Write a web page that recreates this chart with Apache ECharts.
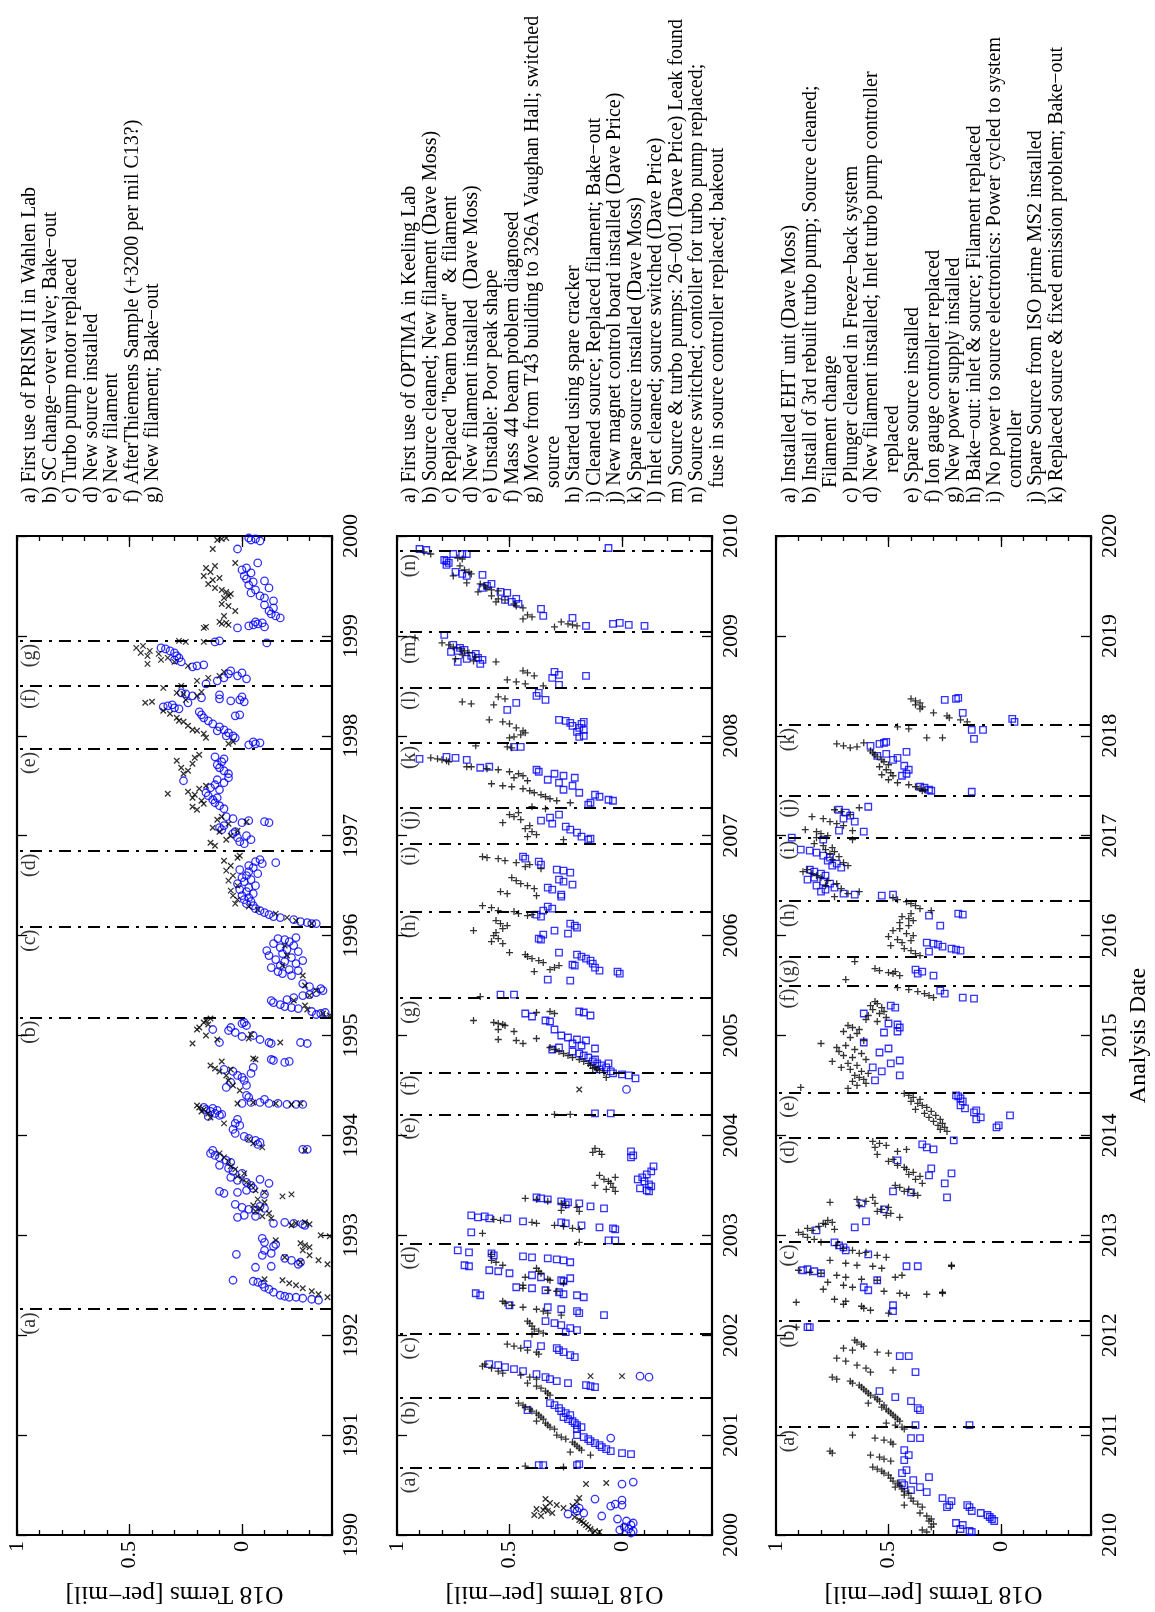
<!DOCTYPE html>
<html>
<head>
<meta charset="utf-8">
<title>O18 Terms by analysis date</title>
<script src="https://cdn.jsdelivr.net/npm/echarts@6/dist/echarts.min.js"></script>
<style>
  html, body { margin: 0; padding: 0; background: #fff; }
  #chart { width: 1155px; height: 1612px; }
</style>
</head>
<body>
<div id="chart"></div>
<script>
// ---------------------------------------------------------------------------
// Data: [analysis date (decimal year), O18 term (per-mil)]
// ---------------------------------------------------------------------------

// PRISM II, 'x' markers (1990-2000 panel)
const p1Cross = [
  [1992.38,-0.38],[1992.41,-0.34],[1992.44,-0.31],[1992.47,-0.27],[1992.50,-0.24],[1992.52,-0.21],[1992.55,-0.18],[1992.56,-0.10],
  [1992.71,-0.38],[1992.75,-0.34],[1992.80,-0.30],[1992.85,-0.27],[1992.88,-0.30],[1992.90,-0.28],[1992.92,-0.26],[1992.95,-0.15],[1992.78,-0.19],[1992.73,-0.26],[1992.99,-0.39],[1993.00,-0.35],
  [1993.12,-0.24],[1993.13,-0.28],[1993.11,-0.30],[1993.10,-0.22],
  [1993.17,-0.13],[1993.19,-0.09],[1993.22,-0.12],[1993.24,-0.06],[1993.27,-0.08],[1993.30,-0.05],[1993.33,-0.10],[1993.36,-0.07],[1993.39,-0.18],[1993.41,-0.22],[1993.43,-0.10],[1993.45,-0.06],
  [1993.50,-0.04],[1993.53,-0.02],[1993.56,0.00],[1993.59,0.02],[1993.62,-0.01],[1993.66,0.03],[1993.69,0.05],
  [1993.74,0.06],[1993.78,0.08],[1993.82,0.10],[1993.85,-0.28],[1993.88,-0.09],[1993.92,-0.05],[1993.96,-0.03],
  [1994.12,0.08],[1994.18,0.14],[1994.22,0.15],[1994.24,0.18],[1994.26,0.17],[1994.28,0.19],[1994.30,0.20],
  [1994.32,0.02],[1994.33,-0.05],[1994.32,-0.15],[1994.31,-0.22],[1994.32,-0.26],
  [1994.45,0.01],[1994.50,0.04],[1994.55,0.06],[1994.60,0.07],[1994.64,0.10],[1994.66,0.05],[1994.67,0.12],[1994.70,0.14],[1994.74,0.09],
  [1994.76,-0.06],[1994.77,-0.05],
  [1994.92,0.22],[1994.93,-0.17],[1994.96,0.11],[1994.97,-0.03],[1995.00,0.16],[1995.01,-0.04],[1995.06,0.20],[1995.08,0.19],[1995.11,0.15],[1995.13,0.17],[1995.15,0.16],[1995.17,0.14],
  [1995.20,-0.39],[1995.22,-0.36],[1995.26,-0.29],[1995.30,-0.28],[1995.35,-0.23],[1995.40,-0.30],[1995.45,-0.33],[1995.50,-0.28],
  [1995.60,-0.27],[1995.70,-0.18],[1995.80,-0.20],[1995.90,-0.19],
  [1996.12,-0.31],[1996.15,-0.24],[1996.18,-0.20],[1996.22,-0.15],[1996.26,-0.07],[1996.29,-0.03],
  [1996.32,0.03],[1996.36,0.02],[1996.40,0.04],[1996.45,0.05],[1996.50,0.02],[1996.55,0.06],[1996.60,0.04],[1996.65,0.07],[1996.70,0.05],[1996.75,0.08],[1996.78,0.02],[1996.80,0.01],
  [1996.90,0.12],[1996.93,0.14],[1996.96,0.07],[1997.00,0.05],[1997.04,0.10],[1997.05,0.02],[1997.08,0.13],[1997.12,0.06],[1997.14,-0.02],[1997.16,0.11],[1997.19,0.09],
  [1997.26,0.20],[1997.29,0.22],[1997.32,0.17],[1997.35,0.18],[1997.38,0.22],[1997.41,0.21],[1997.42,0.33],[1997.44,0.24],[1997.47,0.19],[1997.50,0.16],
  [1997.62,0.26],[1997.65,0.24],[1997.68,0.27],[1997.72,0.22],[1997.75,0.29],[1997.78,0.21],[1997.81,0.19],
  [1997.92,0.06],[1997.94,0.04],
  [1997.98,0.16],[1998.02,0.17],[1998.05,0.20],[1998.06,0.22],[1998.10,0.24],[1998.14,0.26],[1998.15,0.28],[1998.18,0.29],[1998.22,0.32],[1998.25,0.35],
  [1998.33,0.43],[1998.34,0.40],[1998.36,0.25],[1998.40,0.20],[1998.42,0.26],[1998.43,0.29],[1998.44,0.18],
  [1998.48,0.35],[1998.50,0.27],[1998.55,0.20],[1998.58,0.15],[1998.60,0.10],[1998.64,0.08],
  [1998.70,0.24],[1998.72,0.42],[1998.74,0.30],[1998.76,0.36],[1998.78,0.33],[1998.80,0.42],[1998.82,0.37],[1998.83,0.45],[1998.85,0.41],[1998.88,0.47],[1998.90,0.44],
  [1998.94,0.25],[1998.94,0.17],[1998.95,0.28],
  [1999.08,0.17],[1999.09,0.16],[1999.11,0.06],[1999.12,0.09],[1999.13,0.07],[1999.14,0.10],
  [1999.20,0.08],[1999.25,0.03],[1999.30,0.06],[1999.32,0.09],
  [1999.38,0.08],[1999.40,0.06],[1999.42,0.05],[1999.44,0.07],[1999.46,0.09],
  [1999.48,0.12],[1999.52,0.15],[1999.56,0.13],[1999.58,0.10],[1999.60,0.17],[1999.64,0.14],[1999.68,0.16],[1999.70,0.12],
  [1999.73,0.03],[1999.87,0.13],[1999.96,0.11],[1999.97,0.09],[1999.98,0.07]
];

// PRISM II, open circles (1990-2000 panel)
const p1Circle = [
  [1992.35,-0.34],[1992.36,-0.31],[1992.37,-0.27],[1992.38,-0.24],[1992.38,-0.21],[1992.39,-0.19],[1992.40,-0.17],[1992.43,-0.14],[1992.46,-0.12],[1992.48,-0.10],[1992.51,-0.09],[1992.53,-0.07],[1992.54,-0.05],[1992.55,0.04],
  [1992.97,-0.09],[1992.93,-0.10],[1992.91,-0.15],[1992.89,-0.14],[1992.85,-0.10],[1992.82,-0.13],[1992.80,-0.09],[1992.77,-0.19],[1992.75,-0.22],[1992.73,-0.26],[1992.71,-0.25],[1992.68,-0.06],[1992.69,-0.13],[1992.81,0.025],
  [1993.12,-0.14],[1993.13,-0.19],[1993.12,-0.23],[1993.11,-0.27],[1993.10,-0.28],
  [1993.18,0.02],[1993.20,-0.01],[1993.19,-0.06],
  [1993.28,0.00],[1993.26,-0.03],[1993.25,-0.06],[1993.29,-0.08],[1993.27,-0.10],[1993.31,0.03],
  [1993.42,0.08],[1993.43,0.02],[1993.45,-0.02],[1993.47,-0.05],[1993.41,-0.10],[1993.44,0.10],
  [1993.58,0.05],[1993.55,0.02],[1993.53,-0.02],[1993.50,-0.04],[1993.62,0.00],[1993.56,-0.08],[1993.52,-0.12],
  [1993.70,0.10],[1993.67,0.06],[1993.64,0.04],
  [1993.85,0.13],[1993.82,0.14],[1993.80,0.12],[1993.78,0.10],[1993.75,0.07],[1993.73,0.05],[1993.86,-0.27],[1993.86,-0.29],
  [1994.02,0.03],[1993.99,-0.01],[1993.97,-0.03],[1993.95,-0.06],[1993.93,-0.08],[1993.91,-0.07],
  [1994.12,0.03],[1994.10,0.01],[1994.06,0.04],[1994.16,0.02],
  [1994.28,0.17],[1994.26,0.16],[1994.24,0.14],[1994.22,0.12],[1994.20,0.10],[1994.27,0.13],[1994.25,0.11],[1994.21,0.09],[1994.19,0.15],
  [1994.32,0.00],[1994.33,-0.04],[1994.33,-0.08],[1994.32,-0.12],[1994.32,-0.16],[1994.31,-0.20],[1994.31,-0.24],[1994.31,-0.27],
  [1994.40,-0.02],[1994.38,-0.03],[1994.36,-0.10],
  [1994.66,0.08],[1994.64,0.04],[1994.60,0.02],[1994.58,0.00],[1994.55,-0.01],[1994.53,0.05],[1994.50,-0.02],[1994.48,0.07],[1994.62,-0.04],[1994.68,-0.05],
  [1994.76,-0.13],[1994.75,-0.14],[1994.73,-0.19],[1994.74,-0.21],
  [1995.12,0.00],[1995.13,-0.01],[1995.10,-0.02],[1995.08,0.05],[1995.05,0.06],[1995.03,0.03],[1994.99,0.00],[1995.00,-0.05],[1995.06,0.13],[1994.93,0.10],[1994.96,-0.08],[1994.93,-0.12],[1994.92,-0.13],[1994.93,-0.26],[1994.92,-0.29],
  [1995.21,-0.33],[1995.22,-0.35],[1995.23,-0.37],[1995.24,-0.31],[1995.27,-0.25],[1995.28,-0.22],[1995.29,-0.19],[1995.31,-0.17],[1995.33,-0.14],[1995.35,-0.13],[1995.36,-0.20],[1995.38,-0.23],[1995.40,-0.27],[1995.41,-0.30],[1995.43,-0.33],[1995.45,-0.36],[1995.47,-0.35],[1995.49,-0.30],[1995.52,-0.27],
  [1995.60,-0.22],[1995.62,-0.18],[1995.64,-0.16],[1995.65,-0.25],[1995.66,-0.21],[1995.68,-0.13],[1995.70,-0.17],[1995.72,-0.24],[1995.74,-0.19],[1995.75,-0.27],[1995.76,-0.15],[1995.78,-0.22],[1995.80,-0.12],[1995.82,-0.18],[1995.84,-0.25],[1995.85,-0.11],[1995.86,-0.20],[1995.88,-0.17],[1995.90,-0.23],[1995.92,-0.14],[1995.94,-0.21],[1995.96,-0.19],[1995.97,-0.16],[1995.98,-0.24],
  [1996.12,-0.33],[1996.12,-0.31],[1996.13,-0.29],[1996.14,-0.26],[1996.16,-0.23],[1996.18,-0.17],[1996.19,-0.14],[1996.21,-0.12],[1996.23,-0.10],[1996.25,-0.08],[1996.27,-0.06],
  [1996.30,-0.05],[1996.32,-0.02],[1996.34,-0.04],[1996.36,-0.01],[1996.38,-0.03],[1996.40,0.00],[1996.42,-0.05],[1996.44,-0.02],[1996.46,0.01],[1996.48,-0.03],[1996.50,-0.06],[1996.52,0.02],[1996.54,-0.01],[1996.56,-0.04],[1996.58,0.00],[1996.60,-0.02],[1996.62,-0.07],[1996.64,-0.03],[1996.66,0.01],[1996.68,-0.05],[1996.70,-0.03],[1996.72,-0.09],[1996.74,-0.06],[1996.76,-0.08],[1996.73,-0.15],
  [1996.92,-0.01],[1996.94,0.01],[1996.96,-0.04],[1996.98,0.02],[1997.00,-0.02],[1997.02,0.04],[1997.04,0.03],[1997.06,0.09],[1997.08,0.10],[1997.10,0.08],[1997.13,0.00],[1997.15,-0.03],[1997.17,0.04],[1997.19,0.07],[1997.14,-0.10],[1997.13,-0.12],
  [1997.27,0.08],[1997.30,0.10],[1997.33,0.12],[1997.36,0.13],[1997.38,0.11],[1997.40,0.15],[1997.43,0.16],[1997.46,0.10],[1997.48,0.14],[1997.51,0.12],[1997.53,0.08],[1997.56,0.11],[1997.58,0.06],[1997.55,0.26],
  [1997.62,0.06],[1997.65,0.08],[1997.68,0.10],[1997.71,0.11],[1997.74,0.09],[1997.77,0.08],[1997.79,0.12],
  [1997.91,-0.03],[1997.92,-0.06],[1997.93,-0.08],[1997.94,-0.05],
  [1997.98,0.03],[1998.00,0.04],[1998.00,0.07],[1998.03,0.06],[1998.05,0.11],[1998.06,0.08],[1998.09,0.10],[1998.12,0.13],[1998.15,0.15],[1998.18,0.17],[1998.20,0.03],[1998.21,0.18],[1998.21,0.01],[1998.24,0.19],
  [1998.27,0.28],[1998.28,0.30],[1998.29,0.35],[1998.30,0.33],[1998.31,0.31],[1998.33,0.24],
  [1998.34,-0.01],[1998.35,0.05],[1998.36,0.01],[1998.37,0.10],[1998.38,0.18],[1998.39,0.00],[1998.40,0.22],[1998.41,0.10],[1998.42,0.25],[1998.43,0.27],
  [1998.52,0.16],[1998.55,0.11],[1998.57,-0.02],[1998.58,0.08],[1998.60,0.02],[1998.62,0.06],[1998.63,0.00],[1998.65,0.05],
  [1998.69,0.22],[1998.70,0.20],[1998.71,0.17],
  [1998.74,0.27],[1998.76,0.30],[1998.78,0.28],[1998.80,0.29],[1998.83,0.30],[1998.85,0.32],[1998.87,0.34],[1998.88,0.36],
  [1998.93,-0.11],[1998.94,0.12],[1998.95,0.10],
  [1999.08,0.02],[1999.09,-0.10],[1999.10,-0.03],[1999.11,-0.05],[1999.12,-0.07],[1999.13,-0.09],[1999.14,-0.06],
  [1999.18,-0.17],[1999.20,-0.15],[1999.22,-0.13],[1999.25,-0.12],[1999.28,-0.14],[1999.31,-0.10],
  [1999.35,-0.14],[1999.38,-0.10],[1999.40,-0.08],[1999.43,-0.04],[1999.46,-0.06],[1999.48,-0.12],
  [1999.51,-0.03],[1999.54,-0.05],[1999.55,-0.10],[1999.57,-0.02],[1999.60,-0.01],[1999.63,-0.04],[1999.66,0.00],[1999.68,-0.02],
  [1999.73,-0.07],[1999.87,0.02],[1999.95,-0.08],[1999.96,-0.04],[1999.97,-0.06],[1999.98,-0.03]
];

// PRISM II carry-over into 2000-2010 panel
const p2Cross = [
  [2000.02,0.13],[2000.03,0.10],[2000.04,0.12],[2000.06,0.14],[2000.08,0.15],[2000.10,0.16],[2000.12,0.17],[2000.14,0.18],[2000.15,0.19],[2000.18,0.21],[2000.19,0.36],[2000.20,0.39],
  [2000.22,0.31],[2000.24,0.33],[2000.25,0.35],[2000.26,0.38],[2000.27,0.26],[2000.28,0.34],[2000.29,0.22],[2000.30,0.29],[2000.32,0.32],[2000.33,0.20],[2000.36,0.34],[2000.37,0.19],
  [2000.51,0.16],[2000.52,0.07],[2001.59,0.14],[2001.59,0.00],[2004.46,0.19]
];
const p2Circle = [
  [2000.02,-0.04],[2000.04,-0.05],[2000.05,0.01],[2000.06,-0.03],[2000.08,-0.01],[2000.10,-0.04],[2000.12,-0.05],[2000.14,-0.02],[2000.16,0.02],[2000.19,0.09],
  [2000.21,0.24],[2000.22,0.17],[2000.24,0.20],[2000.26,0.21],[2000.27,0.19],[2000.29,0.05],[2000.30,0.00],[2000.31,0.03],[2000.35,0.00],[2000.36,0.12],
  [2000.51,0.00],[2000.53,-0.05],[2000.97,0.05],[2001.58,-0.12],[2001.59,-0.08],[2004.46,-0.02]
];

// OPTIMA, '+' markers
const p2Plus = [
  [2000.68,0.26],[2000.69,0.43],
  [2000.80,0.14],[2000.83,0.23],[2000.85,0.18],[2000.87,0.19],[2000.89,0.20],[2000.91,0.21],[2000.93,0.22],[2000.96,0.25],[2000.98,0.27],[2001.00,0.29],
  [2001.06,0.30],[2001.08,0.32],[2001.10,0.33],[2001.12,0.34],[2001.14,0.38],[2001.16,0.35],[2001.18,0.36],[2001.20,0.37],[2001.22,0.38],[2001.24,0.40],[2001.26,0.41],[2001.28,0.43],[2001.30,0.44],[2001.32,0.46],
  [2001.40,0.32],[2001.42,0.33],[2001.44,0.34],[2001.47,0.36],[2001.49,0.38],[2001.52,0.42],
  [2001.56,0.38],[2001.58,0.41],[2001.60,0.45],[2001.62,0.53],[2001.64,0.55],[2001.67,0.58],[2001.69,0.62],[2001.71,0.61],
  [2001.81,0.37],[2001.83,0.38],[2001.85,0.42],[2001.87,0.45],[2001.89,0.48],[2001.91,0.51],
  [2002.01,0.40],[2002.02,0.35],[2002.04,0.37],[2002.06,0.39],[2002.09,0.40],[2002.12,0.41],[2002.14,0.42],
  [2002.20,0.27],[2002.22,0.33],[2002.24,0.35],[2002.26,0.38],[2002.28,0.44],[2002.30,0.49],[2002.32,0.52],[2002.34,0.53],
  [2002.44,0.29],[2002.45,0.33],[2002.47,0.44],[2002.50,0.44],[2002.52,0.26],[2002.55,0.32],[2002.56,0.33],[2002.58,0.43],
  [2002.62,0.36],[2002.64,0.37],[2002.67,0.38],[2002.70,0.53],[2002.73,0.56],[2002.75,0.58],[2002.81,0.58],
  [2002.93,0.19],[2003.02,0.62],
  [2003.06,0.19],[2003.07,0.22],[2003.09,0.26],[2003.10,0.30],[2003.12,0.38],[2003.13,0.40],[2003.15,0.54],[2003.16,0.57],
  [2003.24,0.19],[2003.25,0.27],[2003.28,0.20],[2003.30,0.25],[2003.32,0.27],[2003.34,0.33],[2003.36,0.38],[2003.37,0.43],
  [2003.44,0.03],[2003.46,0.07],[2003.48,0.04],[2003.50,0.12],[2003.52,0.05],[2003.54,0.06],[2003.56,0.08],[2003.58,0.03],[2003.60,0.10],
  [2003.81,0.09],[2003.83,0.13],[2003.84,0.10],[2003.87,0.12],
  [2004.21,0.30],[2004.21,0.23],[2004.58,0.07],
  [2004.63,0.08],[2004.65,0.10],[2004.66,0.11],[2004.67,0.13],[2004.68,0.12],[2004.70,0.14],[2004.72,0.15],[2004.74,0.17],[2004.76,0.19],[2004.78,0.22],[2004.80,0.24],[2004.82,0.26],[2004.84,0.28],[2004.86,0.30],[2004.88,0.32],
  [2004.92,0.44],[2004.95,0.47],[2004.96,0.55],[2004.97,0.38],[2005.04,0.48],[2005.06,0.55],[2005.10,0.52],[2005.11,0.53],[2005.12,0.55],[2005.13,0.57],[2005.15,0.66],[2005.22,0.30],[2005.23,0.38],[2005.24,0.32],
  [2005.39,0.63],
  [2005.64,0.39],[2005.66,0.32],[2005.68,0.30],[2005.70,0.28],[2005.73,0.35],[2005.75,0.37],[2005.77,0.40],[2005.79,0.42],[2005.81,0.43],[2005.83,0.50],
  [2005.92,0.53],[2005.94,0.58],[2005.97,0.55],[2006.00,0.57],[2006.03,0.56],[2006.05,0.66],[2006.07,0.53],[2006.10,0.51],[2006.12,0.54],[2006.15,0.56],
  [2006.20,0.42],[2006.21,0.40],[2006.22,0.46],[2006.24,0.48],[2006.25,0.55],[2006.28,0.58],[2006.30,0.62],
  [2006.40,0.38],[2006.42,0.51],[2006.44,0.54],[2006.47,0.39],[2006.50,0.42],[2006.52,0.45],[2006.55,0.47],[2006.58,0.49],
  [2006.67,0.36],[2006.69,0.43],[2006.71,0.41],[2006.73,0.47],[2006.75,0.52],[2006.77,0.55],[2006.78,0.60],[2006.79,0.62],
  [2006.96,0.26],[2006.99,0.42],[2007.01,0.38],[2007.04,0.40],[2007.07,0.43],[2007.10,0.41],[2007.13,0.53],[2007.16,0.45],[2007.19,0.48],[2007.21,0.50],[2007.23,0.46],
  [2007.27,0.34],[2007.29,0.40],
  [2007.33,0.23],[2007.35,0.29],[2007.37,0.32],[2007.39,0.34],[2007.41,0.36],[2007.43,0.39],[2007.45,0.41],[2007.47,0.44],
  [2007.49,0.49],[2007.50,0.53],[2007.52,0.58],[2007.55,0.42],[2007.58,0.48],[2007.60,0.44],[2007.62,0.46],[2007.64,0.50],[2007.66,0.55],
  [2007.67,0.60],[2007.69,0.67],[2007.69,0.69],[2007.74,0.77],[2007.75,0.78],[2007.76,0.80],[2007.77,0.82],[2007.78,0.85],
  [2007.88,0.49],[2007.89,0.51],[2007.90,0.65],
  [2007.98,0.50],[2007.99,0.48],[2008.01,0.45],[2008.03,0.43],[2008.05,0.44],[2008.08,0.47],[2008.12,0.50],[2008.14,0.53],[2008.16,0.59],
  [2008.31,0.57],[2008.32,0.67],[2008.34,0.71],[2008.37,0.52],[2008.39,0.55],
  [2008.50,0.35],[2008.52,0.43],[2008.54,0.47],[2008.56,0.51],[2008.60,0.39],[2008.63,0.42],[2008.65,0.44],
  [2008.74,0.56],[2008.75,0.66],[2008.77,0.74],[2008.79,0.65],[2008.81,0.71],[2008.83,0.68],[2008.85,0.70],[2008.87,0.72],[2008.89,0.75],[2008.91,0.77],[2008.93,0.80],[2008.98,0.92],
  [2009.09,0.30],[2009.10,0.20],[2009.11,0.22],[2009.12,0.24],[2009.14,0.27],[2009.17,0.44],[2009.19,0.40],[2009.21,0.42],
  [2009.28,0.44],[2009.30,0.47],[2009.32,0.48],[2009.34,0.56],[2009.36,0.52],[2009.37,0.55],[2009.40,0.58],
  [2009.44,0.64],[2009.45,0.55],[2009.46,0.58],[2009.48,0.60],[2009.50,0.61],[2009.52,0.63],[2009.53,0.69],
  [2009.60,0.75],[2009.62,0.67],[2009.64,0.68],[2009.66,0.70],[2009.70,0.72],
  [2009.77,0.71],[2009.78,0.73],[2009.82,0.85],[2009.84,0.88]
];

// OPTIMA, open squares
const p2Square = [
  [2000.70,0.37],[2000.70,0.35],[2000.70,0.20],[2000.71,0.19],
  [2000.81,-0.04],[2000.82,0.00],[2000.84,0.05],[2000.86,0.07],[2000.88,0.09],[2000.90,0.10],[2000.92,0.12],[2000.94,0.14],[2000.96,0.15],[2000.98,0.17],[2001.00,0.20],
  [2001.06,0.20],[2001.08,0.18],[2001.10,0.20],[2001.12,0.21],[2001.14,0.22],[2001.16,0.24],[2001.18,0.26],[2001.20,0.23],[2001.22,0.25],[2001.24,0.27],[2001.25,0.42],[2001.27,0.28],[2001.30,0.30],[2001.32,0.32],
  [2001.48,0.12],[2001.49,0.14],[2001.50,0.16],[2001.52,0.24],[2001.54,0.29],[2001.56,0.32],[2001.58,0.34],[2001.61,0.38],[2001.64,0.44],[2001.66,0.48],[2001.68,0.52],[2001.70,0.55],[2001.71,0.59],
  [2001.78,0.21],[2001.80,0.23],[2001.83,0.26],[2001.85,0.28],[2001.87,0.29],[2001.89,0.36],[2001.91,0.42],
  [2002.03,0.25],[2002.05,0.20],[2002.07,0.23],[2002.10,0.27],[2002.12,0.30],[2002.14,0.34],
  [2002.20,0.08],[2002.22,0.19],[2002.24,0.20],[2002.26,0.27],[2002.28,0.33],[2002.30,0.50],
  [2002.38,0.17],[2002.40,0.20],[2002.40,0.63],[2002.41,0.26],[2002.42,0.65],[2002.43,0.28],[2002.45,0.34],[2002.47,0.40],[2002.48,0.47],
  [2002.54,0.26],[2002.55,0.27],[2002.57,0.23],[2002.58,0.36],[2002.60,0.40],[2002.62,0.50],[2002.64,0.55],[2002.65,0.59],
  [2002.69,0.68],[2002.70,0.70],[2002.73,0.23],[2002.75,0.26],[2002.76,0.29],[2002.77,0.33],[2002.78,0.40],[2002.79,0.44],[2002.80,0.57],[2002.82,0.58],[2002.83,0.68],[2002.85,0.73],
  [2002.95,0.06],[2002.95,0.03],[2003.03,0.67],
  [2003.06,0.03],[2003.07,0.04],[2003.08,0.10],[2003.10,0.18],[2003.12,0.25],[2003.13,0.27],[2003.14,0.44],[2003.17,0.51],[2003.17,0.59],[2003.18,0.64],[2003.19,0.61],[2003.20,0.67],
  [2003.27,0.08],[2003.29,0.14],[2003.31,0.25],[2003.32,0.19],[2003.33,0.24],[2003.34,0.27],[2003.36,0.33],[2003.37,0.36],[2003.38,0.38],
  [2003.44,-0.12],[2003.45,-0.11],[2003.47,-0.08],[2003.49,-0.13],[2003.51,-0.12],[2003.54,-0.10],[2003.56,-0.07],[2003.58,-0.09],[2003.61,-0.11],[2003.64,-0.13],[2003.69,-0.14],
  [2003.78,-0.04],[2003.80,-0.05],[2003.84,-0.04],
  [2004.22,0.12],[2004.22,0.05],
  [2004.57,-0.06],[2004.60,-0.03],[2004.61,0.00],[2004.62,0.04],[2004.64,0.05],[2004.66,0.10],[2004.68,0.07],[2004.70,0.09],[2004.72,0.11],[2004.72,0.06],[2004.74,0.13],[2004.76,0.12],[2004.78,0.15],[2004.80,0.17],[2004.82,0.19],[2004.84,0.22],
  [2004.86,0.31],[2004.87,0.12],[2004.88,0.28],[2004.90,0.18],[2004.92,0.22],[2004.95,0.16],[2004.96,0.20],[2004.98,0.24],[2005.00,0.27],[2005.06,0.30],
  [2005.14,0.32],[2005.15,0.34],[2005.19,0.40],[2005.20,0.14],[2005.22,0.43],[2005.23,0.17],[2005.24,0.19],
  [2005.41,0.54],[2005.41,0.48],
  [2005.55,0.23],[2005.56,0.33],[2005.62,0.01],[2005.64,0.02],[2005.65,0.10],[2005.68,0.12],[2005.70,0.21],[2005.71,0.22],[2005.72,0.13],[2005.75,0.14],[2005.77,0.16],[2005.79,0.18],[2005.81,0.20],[2005.83,0.28],
  [2005.96,0.36],[2005.97,0.37],[2006.01,0.35],[2006.02,0.24],[2006.05,0.30],[2006.08,0.20],[2006.10,0.21],[2006.12,0.23],
  [2006.19,0.36],[2006.21,0.38],[2006.25,0.35],[2006.27,0.31],[2006.29,0.33],
  [2006.39,0.27],[2006.41,0.27],[2006.46,0.31],[2006.48,0.33],[2006.51,0.22],[2006.54,0.26],[2006.56,0.28],
  [2006.63,0.23],[2006.65,0.26],[2006.66,0.29],[2006.71,0.36],[2006.74,0.37],[2006.77,0.43],[2006.79,0.44],
  [2006.96,0.15],[2006.97,0.14],[2006.99,0.18],[2007.03,0.20],[2007.06,0.23],[2007.09,0.25],[2007.12,0.31],[2007.15,0.36],[2007.18,0.32],[2007.21,0.28],
  [2007.31,0.15],[2007.33,0.14],[2007.35,0.04],[2007.36,0.06],[2007.39,0.10],[2007.41,0.12],[2007.43,0.19],[2007.46,0.26],[2007.50,0.22],[2007.53,0.28],[2007.56,0.33],[2007.58,0.21],[2007.60,0.26],[2007.62,0.30],[2007.64,0.37],[2007.66,0.38],
  [2007.68,0.63],[2007.69,0.59],[2007.76,0.69],[2007.77,0.90],[2007.78,0.74],[2007.79,0.78],
  [2007.89,0.48],[2007.89,0.45],
  [2007.99,0.19],[2008.00,0.17],[2008.04,0.20],[2008.06,0.17],[2008.08,0.19],[2008.10,0.22],[2008.12,0.18],[2008.13,0.23],[2008.14,0.17],[2008.15,0.25],[2008.16,0.28],
  [2008.26,0.51],[2008.33,0.47],[2008.36,0.34],[2008.40,0.38],[2008.43,0.37],
  [2008.51,0.28],[2008.58,0.31],[2008.60,0.16],[2008.61,0.28],[2008.64,0.30],
  [2008.72,0.63],[2008.74,0.73],[2008.76,0.62],[2008.77,0.69],[2008.78,0.64],[2008.80,0.67],[2008.82,0.65],[2008.84,0.76],[2008.85,0.73],[2008.86,0.70],[2008.88,0.72],[2008.91,0.75],
  [2009.01,0.79],
  [2009.10,0.16],[2009.10,-0.10],[2009.11,-0.03],[2009.12,0.04],[2009.13,0.01],
  [2009.18,0.22],[2009.20,0.35],[2009.27,0.36],
  [2009.32,0.46],[2009.34,0.49],[2009.36,0.52],[2009.37,0.47],
  [2009.43,0.51],[2009.44,0.54],[2009.48,0.62],[2009.50,0.60],[2009.52,0.58],
  [2009.60,0.69],[2009.61,0.62],[2009.62,0.71],[2009.64,0.74],
  [2009.71,0.78],[2009.73,0.77],[2009.75,0.78],[2009.76,0.79],
  [2009.82,0.75],[2009.82,0.71],[2009.82,0.69],[2009.86,0.87],[2009.87,0.90],[2009.88,0.06]
];

// 2010-2020 panel, '+' markers
const p3Plus = [
  [2010.03,0.33],[2010.05,0.35],[2010.08,0.31],[2010.11,0.30],[2010.14,0.32],[2010.16,0.31],[2010.19,0.33],[2010.22,0.36],
  [2010.28,0.35],[2010.30,0.43],[2010.31,0.37],[2010.34,0.39],[2010.37,0.40],[2010.40,0.43],
  [2010.42,0.41],[2010.44,0.43],[2010.46,0.44],[2010.48,0.47],[2010.50,0.45],[2010.52,0.46],[2010.54,0.48],[2010.57,0.49],[2010.60,0.50],[2010.62,0.52],[2010.64,0.53],[2010.66,0.55],[2010.68,0.57],
  [2010.74,0.49],[2010.76,0.52],[2010.78,0.54],[2010.80,0.58],[2010.82,0.75],[2010.84,0.76],
  [2010.91,0.48],[2010.93,0.49],[2010.95,0.52],[2010.97,0.56],[2011.00,0.66],
  [2011.06,0.43],[2011.08,0.44],[2011.10,0.47],[2011.12,0.51],[2011.14,0.45],[2011.16,0.46],[2011.18,0.47],[2011.20,0.48],[2011.22,0.49],[2011.24,0.50],[2011.26,0.51],[2011.28,0.53],[2011.30,0.52],[2011.32,0.59],[2011.34,0.54],[2011.36,0.55],[2011.38,0.56],[2011.40,0.58],[2011.42,0.59],
  [2011.44,0.60],[2011.46,0.61],[2011.48,0.62],[2011.50,0.63],[2011.52,0.66],[2011.54,0.67],[2011.56,0.73],[2011.58,0.75],
  [2011.63,0.58],[2011.65,0.48],[2011.67,0.60],[2011.70,0.64],[2011.74,0.69],[2011.77,0.73],
  [2011.82,0.50],[2011.83,0.55],[2011.85,0.66],[2011.87,0.70],[2011.89,0.61],[2011.91,0.62],[2011.93,0.64],[2011.95,0.65],
  [2012.08,0.91],
  [2012.22,0.50],[2012.25,0.58],[2012.27,0.61],[2012.29,0.62],[2012.31,0.70],[2012.33,0.91],[2012.34,0.69],[2012.36,0.74],
  [2012.40,0.42],[2012.41,0.33],[2012.42,0.45],[2012.42,0.26],[2012.43,0.26],[2012.44,0.52],[2012.46,0.79],[2012.48,0.66],[2012.50,0.70],[2012.53,0.77],
  [2012.55,0.55],[2012.56,0.62],[2012.58,0.69],[2012.58,0.47],[2012.60,0.73],[2012.60,0.44],[2012.62,0.80],[2012.63,0.85],[2012.65,0.90],[2012.67,0.53],[2012.69,0.57],[2012.69,0.22],[2012.70,0.64],[2012.70,0.22],[2012.72,0.69],[2012.75,0.76],
  [2012.78,0.51],[2012.80,0.55],[2012.82,0.63],[2012.83,0.60],[2012.85,0.66],[2012.87,0.70],[2012.90,0.73],[2012.93,0.80],[2012.96,0.83],[2012.98,0.86],
  [2013.01,0.88],[2013.03,0.90],[2013.05,0.84],[2013.06,0.74],[2013.07,0.86],[2013.09,0.81],[2013.11,0.78],[2013.12,0.79],[2013.13,0.75],[2013.15,0.77],
  [2013.18,0.45],[2013.20,0.51],[2013.22,0.49],[2013.24,0.55],[2013.26,0.53],[2013.28,0.50],[2013.30,0.63],[2013.32,0.56],[2013.33,0.76],[2013.34,0.60],[2013.36,0.64],[2013.38,0.57],
  [2013.40,0.37],[2013.42,0.39],[2013.44,0.43],[2013.46,0.41],[2013.48,0.45],[2013.50,0.47],[2013.52,0.35],[2013.56,0.38],[2013.59,0.36],[2013.61,0.41],[2013.63,0.39],[2013.66,0.42],[2013.68,0.43],[2013.70,0.46],
  [2013.74,0.50],[2013.76,0.48],[2013.81,0.55],[2013.84,0.46],[2013.86,0.42],[2013.88,0.56],[2013.90,0.51],[2013.92,0.54],[2013.94,0.57],
  [2014.04,0.24],[2014.06,0.27],[2014.08,0.25],[2014.10,0.28],[2014.12,0.26],[2014.14,0.30],[2014.16,0.27],[2014.18,0.32],[2014.20,0.29],[2014.22,0.34],[2014.24,0.31],[2014.26,0.38],[2014.28,0.33],[2014.30,0.35],[2014.32,0.37],[2014.34,0.40],[2014.36,0.36],[2014.38,0.39],[2014.40,0.41],[2014.42,0.43],
  [2014.47,0.68],[2014.48,0.89],[2014.50,0.64],[2014.52,0.60],[2014.54,0.66],[2014.56,0.61],[2014.58,0.63],[2014.60,0.65],[2014.62,0.59],[2014.64,0.62],[2014.66,0.67],[2014.68,0.71],[2014.70,0.64],[2014.72,0.68],[2014.74,0.75],[2014.76,0.60],[2014.78,0.66],[2014.80,0.70],[2014.82,0.62],[2014.84,0.72],[2014.86,0.65],[2014.88,0.73],[2014.90,0.69],[2014.92,0.80],[2014.95,0.61],[2014.98,0.67],
  [2015.02,0.64],[2015.04,0.70],[2015.06,0.63],[2015.08,0.66],[2015.10,0.68],
  [2015.14,0.55],[2015.16,0.60],[2015.18,0.51],[2015.20,0.59],[2015.22,0.54],[2015.24,0.52],[2015.26,0.57],[2015.28,0.53],[2015.30,0.58],[2015.32,0.55],[2015.34,0.56],
  [2015.38,0.30],[2015.40,0.32],[2015.42,0.34],[2015.44,0.37],[2015.46,0.41],[2015.48,0.46],
  [2015.56,0.69],[2015.60,0.45],[2015.62,0.48],[2015.63,0.50],[2015.64,0.47],[2015.65,0.54],[2015.67,0.56],[2015.74,0.65],
  [2015.80,0.36],[2015.82,0.38],[2015.85,0.40],[2015.87,0.43],[2015.90,0.49],[2015.93,0.44],[2015.95,0.40],[2015.96,0.46],[2015.99,0.50],[2016.00,0.39],[2016.02,0.42],[2016.05,0.48],[2016.07,0.45],[2016.10,0.41],
  [2016.13,0.45],[2016.15,0.39],[2016.17,0.41],[2016.19,0.44],[2016.22,0.40],[2016.25,0.31],[2016.27,0.36],[2016.30,0.38],[2016.32,0.40],[2016.34,0.42],[2016.36,0.46],[2016.38,0.48],
  [2016.39,0.74],[2016.42,0.68],[2016.44,0.63],[2016.47,0.71],[2016.50,0.78],[2016.52,0.73],[2016.55,0.77],[2016.58,0.80],[2016.60,0.82],[2016.62,0.84],[2016.64,0.88],[2016.66,0.86],
  [2016.70,0.68],[2016.73,0.70],[2016.76,0.75],[2016.79,0.72],[2016.82,0.76],[2016.84,0.74],[2016.86,0.78],[2016.88,0.75],[2016.90,0.79],[2016.92,0.83],
  [2016.96,0.66],[2016.98,0.82],[2017.00,0.77],[2017.02,0.80],[2017.04,0.82],[2017.05,0.66],[2017.06,0.87],
  [2017.10,0.70],[2017.12,0.73],[2017.14,0.76],[2017.17,0.79],[2017.19,0.84],[2017.21,0.67],[2017.24,0.71],[2017.26,0.74],[2017.28,0.63],
  [2017.45,0.35],[2017.46,0.34],[2017.47,0.36],[2017.49,0.38],[2017.51,0.41],[2017.53,0.46],[2017.56,0.50],
  [2017.60,0.48],[2017.61,0.53],[2017.63,0.49],[2017.66,0.51],[2017.69,0.54],[2017.71,0.50],[2017.74,0.52],[2017.76,0.53],[2017.79,0.55],[2017.81,0.56],[2017.83,0.57],[2017.85,0.58],
  [2017.88,0.67],[2017.89,0.64],[2017.90,0.70],[2017.92,0.73],[2017.93,0.61],
  [2017.98,0.33],[2017.98,0.26],[2018.07,0.41],[2018.09,0.46],
  [2018.14,0.15],[2018.16,0.18],[2018.18,0.23],[2018.20,0.24],[2018.23,0.30],
  [2018.27,0.36],[2018.29,0.35],[2018.31,0.38],[2018.33,0.36],[2018.35,0.38],[2018.37,0.40]
];

// 2010-2020 panel, open squares
const p3Square = [
  [2010.03,0.13],[2010.04,0.14],[2010.06,0.18],[2010.10,0.17],[2010.12,0.20],
  [2010.14,0.03],[2010.16,0.04],[2010.18,0.05],[2010.20,0.06],[2010.22,0.09],[2010.24,0.13],[2010.28,0.14],[2010.30,0.15],
  [2010.28,0.24],[2010.30,0.23],[2010.34,0.22],[2010.37,0.26],
  [2010.43,0.33],[2010.45,0.40],[2010.48,0.36],[2010.50,0.43],[2010.52,0.44],[2010.55,0.39],[2010.58,0.32],[2010.62,0.44],[2010.65,0.42],
  [2010.75,0.43],[2010.80,0.41],[2010.85,0.43],[2010.97,0.36],[2010.97,0.40],
  [2011.10,0.38],[2011.10,0.14],[2011.25,0.36],[2011.27,0.37],[2011.34,0.40],[2011.38,0.47],[2011.44,0.54],[2011.63,0.38],[2011.79,0.45],[2011.79,0.41],
  [2012.08,0.86],[2012.08,0.85],[2012.24,0.48],[2012.30,0.48],[2012.45,0.59],[2012.48,0.61],[2012.55,0.55],
  [2012.62,0.80],[2012.64,0.83],[2012.65,0.88],[2012.66,0.86],[2012.69,0.42],[2012.69,0.37],[2012.81,0.59],
  [2012.85,0.69],[2012.88,0.70],[2012.90,0.72],[2012.93,0.74],[2013.05,0.82],[2013.08,0.65],[2013.14,0.60],
  [2013.26,0.52],[2013.32,0.62],[2013.38,0.24],[2013.43,0.40],[2013.44,0.48],[2013.52,0.25],[2013.60,0.32],[2013.62,0.22],[2013.67,0.31],[2013.75,0.46],
  [2013.86,0.30],[2013.88,0.33],[2013.91,0.35],[2013.95,0.21],
  [2014.08,0.02],[2014.10,0.01],[2014.16,0.11],[2014.18,0.09],[2014.20,-0.04],[2014.23,0.12],[2014.25,0.11],[2014.27,0.16],[2014.30,0.18],[2014.34,0.17],[2014.37,0.18],[2014.39,0.19],[2014.40,0.20],
  [2014.55,0.56],[2014.60,0.45],[2014.64,0.53],[2014.68,0.57],[2014.72,0.49],[2014.75,0.45],[2014.83,0.54],[2014.87,0.50],[2014.93,0.61],
  [2015.03,0.52],[2015.04,0.46],[2015.08,0.45],[2015.11,0.46],[2015.12,0.50],[2015.22,0.61],[2015.28,0.47],[2015.30,0.49],
  [2015.37,0.12],[2015.38,0.17],[2015.42,0.25],[2015.45,0.27],
  [2015.60,0.30],[2015.62,0.37],[2015.64,0.35],[2015.66,0.38],
  [2015.84,0.32],[2015.85,0.18],[2015.86,0.20],[2015.87,0.22],[2015.89,0.26],[2015.91,0.28],[2015.92,0.30],[2015.93,0.33],
  [2016.10,0.27],[2016.20,0.32],[2016.21,0.17],[2016.22,0.19],
  [2016.40,0.53],[2016.41,0.48],[2016.41,0.65],[2016.42,0.70],[2016.44,0.80],[2016.46,0.78],[2016.48,0.74],[2016.50,0.82],[2016.52,0.76],[2016.54,0.79],[2016.56,0.86],[2016.58,0.83],[2016.60,0.78],[2016.62,0.80],[2016.64,0.83],[2016.66,0.85],
  [2016.68,0.71],[2016.70,0.75],[2016.72,0.73],[2016.75,0.77],[2016.78,0.76],[2016.80,0.79],[2016.83,0.82],[2016.85,0.85],[2016.86,0.89],
  [2016.96,0.79],[2016.98,0.93],[2017.04,0.61],[2017.05,0.72],
  [2017.14,0.65],[2017.17,0.70],[2017.20,0.67],[2017.23,0.69],[2017.26,0.72],[2017.29,0.59],
  [2017.44,0.13],[2017.45,0.31],[2017.46,0.32],[2017.48,0.34],[2017.49,0.36],
  [2017.60,0.44],[2017.62,0.42],[2017.66,0.41],[2017.70,0.43],[2017.76,0.48],[2017.78,0.46],[2017.80,0.55],[2017.82,0.51],[2017.84,0.42],
  [2017.90,0.58],[2017.92,0.54],[2017.93,0.52],[2017.94,0.51],
  [2017.97,0.12],[2018.06,0.13],[2018.06,0.08],[2018.14,-0.06],[2018.17,-0.05],
  [2018.23,0.17],[2018.36,0.25],[2018.37,0.20],[2018.38,0.19]
];

// Instrument events (decimal year) for each panel
const events1990s = [1992.26, 1995.18, 1996.09, 1996.85, 1997.87, 1998.50, 1998.95];
const events2000s = [2000.67, 2001.37, 2002.01, 2002.92, 2004.21, 2004.63, 2005.38, 2006.24, 2006.92, 2007.28, 2007.93, 2008.48, 2009.04, 2009.85];
const events2010s = [2011.08, 2012.14, 2012.94, 2013.98, 2014.43, 2015.50, 2015.79, 2016.35, 2016.98, 2017.40, 2018.11];

// Event notes printed above each panel
const notes1990s = [
  'a) First use of PRISM II in Wahlen Lab',
  'b) SC change\u2212over valve; Bake\u2212out',
  'c) Turbo pump motor replaced',
  'd) New source installed',
  'e) New filament',
  'f) AfterThiemens Sample (+3200 per mil C13?)',
  'g) New filament; Bake\u2212out'
];
const notes2000s = [
  'a) First use of OPTIMA in Keeling Lab',
  'b) Source cleaned; New filament (Dave Moss)',
  'c) Replaced "beam board"  & filament',
  'd) New filament installed  (Dave Moss)',
  'e) Unstable: Poor peak shape',
  'f) Mass 44 beam problem diagnosed',
  'g) Move from T43 building to 326A Vaughan Hall; switched',
  '   source',
  'h) Started using spare cracker',
  'i) Cleaned source; Replaced filament; Bake\u2212out',
  'j) New magnet control board installed (Dave Price)',
  'k) Spare source installed (Dave Moss)',
  'l) Inlet cleaned; source switched (Dave Price)',
  'm) Source & turbo pumps: 26\u2212001 (Dave Price) Leak found',
  'n) Source switched; contoller for turbo pump replaced;',
  '   fuse in source controller replaced; bakeout'
];
const notes2010s = [
  'a) Installed EHT unit (Dave Moss)',
  'b) Install of 3rd rebuilt turbo pump; Source cleaned;',
  '   Filament change',
  'c) Plunger cleaned in Freeze\u2212back system',
  'd) New filament installed; Inlet turbo pump controller',
  '      replaced',
  'e) Spare source installed',
  'f) Ion gauge controller replaced',
  'g) New power supply installed',
  'h) Bake\u2212out: inlet & source; Filament replaced',
  'i) No power to source electronics: Power cycled to system',
  '   controller',
  'j) Spare Source from ISO prime MS2 installed',
  'k) Replaced source & fixed emission problem; Bake\u2212out'
];

const valueTicks = ['1', '0.5', '0'];

// ---------------------------------------------------------------------------
// Layout and styling
// ---------------------------------------------------------------------------
const SERIF = '"Liberation Serif", "DejaVu Serif", serif';
const BLUE = '#0000ff';
const panels = [
  { left: 17,  start: 1990, events: events1990s, notes: notes1990s, noteX: 30 },
  { left: 397, start: 2000, events: events2000s, notes: notes2000s, noteX: 410 },
  { left: 776, start: 2010, events: events2010s, notes: notes2010s, noteX: 790 }
];
const GRID_TOP = 536, GRID_W = 315, GRID_H = 1000;
const NOTE_STEP = 20.5, NOTE_BASE_Y = 503;
const LETTER_VALUE = 0.942;   // horizontal anchor of the (a), (b) ... tags, in data units

const CROSS = 'path://M0,0L10,10M10,0L0,10';
const PLUS = 'path://M5,0L5,10M0,5L10,5';

const near = (a, b) => Math.abs(a - b) < 1e-6;
function valueLabel(v) {
  for (const t of valueTicks) { if (near(v, parseFloat(t))) return t; }
  return '';
}
const swap = arr => arr.map(p => [p[1], p[0]]);

const grids = [], xAxes = [], yAxes = [], series = [], graphics = [];
const TICK = { color: '#000', width: 1.3 };

panels.forEach((p, g) => {
  grids.push({
    left: p.left, top: GRID_TOP, width: GRID_W, height: GRID_H,
    show: true, borderColor: '#000', borderWidth: 2.2, backgroundColor: '#fff', containLabel: false
  });
  const xBase = {
    gridIndex: g, type: 'value', min: -0.4, max: 1, inverse: true, interval: 0.1,
    axisLine: { show: false, onZero: false }, splitLine: { show: false }
  };
  // bottom: minor ticks + labels + title
  xAxes.push(Object.assign({}, xBase, {
    position: 'bottom',
    axisTick: { show: true, inside: true, length: 5, lineStyle: TICK },
    axisLabel: {
      show: true, rotate: 90, margin: 6, color: '#000', fontFamily: SERIF, fontSize: 22,
      formatter: valueLabel, showMinLabel: true, showMaxLabel: true, hideOverlap: false
    },
    name: 'O18 Terms [per\u2212mil]', nameLocation: 'middle', nameRotate: 180, nameGap: 46,
    nameTextStyle: { color: '#000', fontFamily: SERIF, fontSize: 25.5 }
  }));
  // bottom: major ticks at 0 and 0.5
  xAxes.push(Object.assign({}, xBase, {
    position: 'bottom',
    axisTick: { show: true, inside: true, length: 11, customValues: [0, 0.5], lineStyle: TICK },
    axisLabel: { show: false }
  }));
  // top: mirrored ticks
  xAxes.push(Object.assign({}, xBase, {
    position: 'top',
    axisTick: { show: true, inside: true, length: 5, lineStyle: TICK },
    axisLabel: { show: false }
  }));
  xAxes.push(Object.assign({}, xBase, {
    position: 'top',
    axisTick: { show: true, inside: true, length: 11, customValues: [0, 0.5], lineStyle: TICK },
    axisLabel: { show: false }
  }));

  const yBase = {
    gridIndex: g, type: 'value', min: p.start, max: p.start + 10, interval: 1,
    axisLine: { show: false, onZero: false }, splitLine: { show: false },
    axisTick: { show: true, inside: true, length: 10, lineStyle: TICK }
  };
  yAxes.push(Object.assign({}, yBase, { position: 'left', axisLabel: { show: false } }));
  const right = Object.assign({}, yBase, {
    position: 'right',
    axisLabel: {
      show: true, rotate: 90, margin: 8, color: '#000', fontFamily: SERIF, fontSize: 22,
      formatter: v => String(v), showMinLabel: true, showMaxLabel: true, hideOverlap: false
    }
  });
  if (g === 2) {
    Object.assign(right, {
      name: 'Analysis Date', nameLocation: 'middle', nameRotate: 90, nameGap: 36,
      nameTextStyle: { color: '#000', fontFamily: SERIF, fontSize: 24 }
    });
  }
  yAxes.push(right);

  // event lines and their letter tags
  series.push({
    type: 'scatter', xAxisIndex: g * 4, yAxisIndex: g * 2 + 1, silent: true, z: 3,
    symbolSize: 1, itemStyle: { color: 'rgba(0,0,0,0)' },
    data: p.events.map((d, i) => ({ name: '(' + String.fromCharCode(97 + i) + ')', value: [LETTER_VALUE, d - 0.03] })),
    label: {
      show: true, formatter: q => q.name, position: 'inside', rotate: 90,
      align: 'right', verticalAlign: 'middle',
      color: '#000', fontFamily: SERIF, fontSize: 20
    },
    markLine: {
      silent: true, symbol: ['none', 'none'], label: { show: false }, animation: false,
      lineStyle: { color: '#000', width: 2.2, type: [12, 7, 3, 7] },
      emphasis: { disabled: true },
      data: p.events.map(d => ({ yAxis: d }))
    }
  });

  // notes above the panel, written bottom-to-top
  p.notes.forEach((line, i) => {
    graphics.push({
      type: 'text', x: p.noteX + i * NOTE_STEP, y: NOTE_BASE_Y, rotation: Math.PI / 2,
      silent: true,
      style: { text: line, fill: '#000', font: '20px ' + SERIF, textAlign: 'left', textVerticalAlign: 'middle' }
    });
  });
});

function scatter(g, data, symbol, size, color, width) {
  return {
    type: 'scatter', xAxisIndex: g * 4, yAxisIndex: g * 2 + 1, silent: true,
    symbol: symbol, symbolSize: size, data: swap(data),
    itemStyle: { color: 'rgba(0,0,0,0)', borderColor: color, borderWidth: width },
    emphasis: { disabled: true }, z: 4
  };
}

series.push(
  scatter(0, p1Circle, 'circle', 7.5, BLUE, 1.3),
  scatter(0, p1Cross, CROSS, 5.5, '#000', 1.3),
  scatter(1, p2Circle, 'circle', 7.5, BLUE, 1.3),
  scatter(1, p2Cross, CROSS, 5.5, '#000', 1.3),
  scatter(1, p2Square, 'rect', 6.5, BLUE, 1.3),
  scatter(1, p2Plus, PLUS, 7, '#000', 1.3),
  scatter(2, p3Square, 'rect', 6.5, BLUE, 1.3),
  scatter(2, p3Plus, PLUS, 7, '#000', 1.3)
);

const chart = echarts.init(document.getElementById('chart'), null, { renderer: 'canvas' });
chart.setOption({
  backgroundColor: '#fff',
  animation: false,
  textStyle: { fontFamily: SERIF },
  grid: grids,
  xAxis: xAxes,
  yAxis: yAxes,
  series: series,
  graphic: graphics
});
</script>
</body>
</html>
